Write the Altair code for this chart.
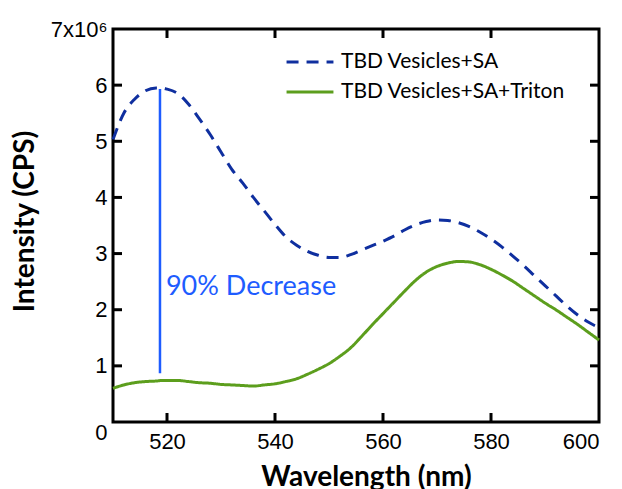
import altair as alt
import pandas as pd

wavelength = [510, 512, 514, 516, 518, 519, 520, 522, 524, 526, 528, 530, 532, 534, 536, 538,
              540, 542, 544, 546, 548, 550, 552, 554, 556, 558, 560, 562, 564, 566, 568, 570,
              572, 574, 576, 578, 580, 582, 584, 586, 588, 590, 592, 594, 596, 598, 600]

sa = [5.03, 5.50, 5.75, 5.90, 5.95, 5.95, 5.93, 5.85, 5.66, 5.40, 5.12, 4.81, 4.50, 4.26, 4.00, 3.76,
      3.52, 3.30, 3.15, 3.04, 2.97, 2.93, 2.93, 2.98, 3.06, 3.14, 3.22, 3.31, 3.42, 3.51, 3.57, 3.60,
      3.59, 3.55, 3.48, 3.38, 3.26, 3.12, 2.96, 2.79, 2.61, 2.43, 2.25, 2.07, 1.91, 1.78, 1.68]

triton = [0.60, 0.66, 0.70, 0.72, 0.73, 0.74, 0.74, 0.74, 0.72, 0.70, 0.69, 0.67, 0.66, 0.65, 0.64, 0.66,
          0.68, 0.72, 0.77, 0.85, 0.94, 1.04, 1.17, 1.32, 1.52, 1.73, 1.93, 2.13, 2.33, 2.52, 2.67, 2.77,
          2.83, 2.86, 2.85, 2.80, 2.72, 2.62, 2.51, 2.38, 2.25, 2.12, 2.00, 1.87, 1.74, 1.60, 1.46]

series_names = ["TBD Vesicles+SA", "TBD Vesicles+SA+Triton"]
series_colors = ["#0f2f9f", "#5c9e1d"]

x_ticks = [520, 540, 560, 580, 600]
y_ticks = [0, 1, 2, 3, 4, 5, 6, 7]
inner_x_ticks = [520, 540, 560, 580]
inner_y_ticks = [1, 2, 3, 4, 5, 6]

arrow_x = [518.7]
arrow_y = [0.87]
arrow_y2 = [5.93]
note_x = [519.8]
note_y = [2.41]
note_text = ["90% Decrease"]

W, H = 486, 393

df = pd.DataFrame({
    "Wavelength": wavelength * 2,
    "Intensity": sa + triton,
    "Series": [series_names[0]] * len(sa) + [series_names[1]] * len(triton),
})

xs = alt.Scale(domain=[510, 600], nice=False, zero=False)
ys = alt.Scale(domain=[0, 7], nice=False)

leg = alt.Legend(title=None, orient="none", legendX=172, legendY=23,
                 symbolType="stroke", symbolSize=2200, symbolStrokeWidth=3, clipHeight=20,
                 labelFont="Lato", labelFontSize=21, labelColor="black", labelLimit=400,
                 labelOffset=6, rowPadding=9)

lines = alt.Chart(df).mark_line(strokeWidth=3, interpolate="monotone").encode(
    x=alt.X("Wavelength:Q", scale=xs, axis=alt.Axis(
        values=x_ticks, title="Wavelength (nm)", ticks=False, domain=False, grid=False, format="d",
        labelFont="Liberation Sans", labelFontSize=22, labelColor="black", labelPadding=9,
        titleFont="Lato", titleFontSize=28, titleFontWeight="bold", titleColor="black",
        titleX=253, titleY=63, titleAlign="center", titleBaseline="alphabetic")),
    y=alt.Y("Intensity:Q", scale=ys, axis=alt.Axis(
        values=y_ticks, title="Intensity (CPS)", ticks=False, domain=False, grid=False, format="d",
        labelExpr="datum.value == 7 ? '7x10\u2076' : datum.label",
        labelFont="Liberation Sans", labelFontSize=22, labelColor="black", labelPadding=6,
        labelBaseline={"condition": {"test": "datum.value == 0", "value": "top"}, "value": "middle"},
        titleFont="Lato", titleFontSize=28, titleFontWeight="bold", titleColor="black",
        titleX=-88, titleY=192, titleAlign="center", titleBaseline="middle")),
    color=alt.Color("Series:N", scale=alt.Scale(domain=series_names, range=series_colors), legend=leg),
    strokeDash=alt.StrokeDash("Series:N", scale=alt.Scale(domain=series_names, range=[[12, 8], [1, 0]]),
                              legend=leg),
)

ann_df = pd.DataFrame({"x": arrow_x, "y": arrow_y, "y2": arrow_y2})
arrow = alt.Chart(ann_df).mark_rule(color="#1e5cff", strokeWidth=2.5).encode(
    x=alt.X("x:Q", scale=xs), y=alt.Y("y:Q", scale=ys), y2="y2:Q")

note_df = pd.DataFrame({"x": note_x, "y": note_y, "t": note_text})
note = alt.Chart(note_df).mark_text(align="left", baseline="middle", font="Lato", fontSize=27,
                                    color="#1e5cff").encode(
    x=alt.X("x:Q", scale=xs), y=alt.Y("y:Q", scale=ys), text="t:N")

xt = pd.DataFrame({"v": inner_x_ticks})
yt = pd.DataFrame({"v": inner_y_ticks})
tk = dict(color="black", strokeWidth=3)
bottom_ticks = alt.Chart(xt).mark_rule(**tk).encode(
    x=alt.X("v:Q", scale=xs), y=alt.value(H), y2=alt.value(H - 9))
top_ticks = alt.Chart(xt).mark_rule(**tk).encode(
    x=alt.X("v:Q", scale=xs), y=alt.value(0), y2=alt.value(9))
left_ticks = alt.Chart(yt).mark_rule(**tk).encode(
    y=alt.Y("v:Q", scale=ys), x=alt.value(0), x2=alt.value(9))
right_ticks = alt.Chart(yt).mark_rule(**tk).encode(
    y=alt.Y("v:Q", scale=ys), x=alt.value(W), x2=alt.value(W - 9))

chart = alt.layer(lines, arrow, note, bottom_ticks, top_ticks, left_ticks, right_ticks).properties(
    width=W, height=H,
    padding={"left": 113, "top": 29, "right": 23, "bottom": 67},
    autosize=alt.AutoSizeParams(type="none"),
    background="white",
).configure_view(stroke="black", strokeWidth=3)

chart.save("out.html", embed_options={"renderer": "svg", "actions": False})
